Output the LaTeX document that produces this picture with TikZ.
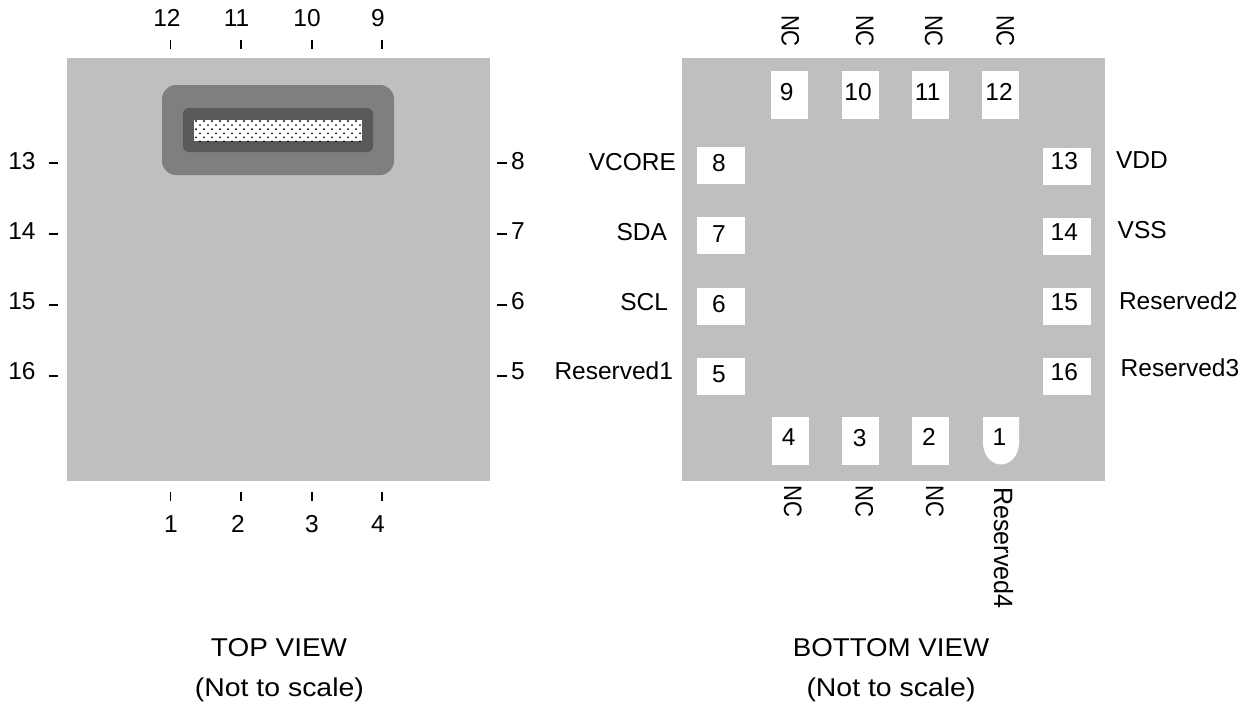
\documentclass[tikz,border=0pt]{standalone}
\usepackage{fontspec}
\setmainfont{Liberation Sans}
\definecolor{pkg}{HTML}{BFBFBF}
\definecolor{midgray}{HTML}{7F7F7F}
\definecolor{darkgray}{HTML}{595959}
\tikzset{
  lab/.style={inner sep=0pt,outer sep=0pt,anchor=base,text=black,font=\fontsize{24.5}{28}\selectfont},
  labw/.style={lab,anchor=base west},
  labe/.style={lab,anchor=base east},
  vert/.style={lab,anchor=base west,rotate=-90},
  tick/.style={draw=black,line width=1.9pt},
  padbox/.style={fill=white,draw=none}
}
\begin{document}
\begin{tikzpicture}[x=1pt,y=-1pt]
\useasboundingbox (0,0) rectangle (1260,702);
% packages
\fill[pkg] (67,58) rectangle (490,481);
\fill[pkg] (682,58) rectangle (1105,481);
% window
\fill[midgray,rounded corners=14pt] (162,85) rectangle (394,175);
\fill[darkgray,rounded corners=6pt] (183,108) rectangle (373,152);
\fill[white] (194,120) rectangle (362,141);
\begin{scope}
\clip (194,120) rectangle (362,141);
\foreach \r in {0,...,5}{
  \pgfmathsetmacro{\yy}{121+4.1*\r}
  \pgfmathsetmacro{\xo}{196+4*mod(\r,2)}
  \foreach \c in {0,...,21}{
    \fill[black!92] ({\xo+8*\c},\yy) circle (1.05pt);
  }
}
\end{scope}
% ticks
\foreach \x in {170.5,241,311.7,382.3}{
  \draw[tick] (\x,40) -- (\x,49);
  \draw[tick] (\x,491.7) -- (\x,500.7);
}
\foreach \y in {163,234,305,376}{
  \draw[tick] (48.7,\y) -- (58,\y);
  \draw[tick] (497.3,\y) -- (507,\y);
}
% left view numbers
\foreach \x/\y/\t/\n in {167/26/12/ta,236.5/26/11/tb,307/26/10/tc,378/26/9/td,
  171/532/1/ba,238/532/2/bb,312/532/3/bc,378/532/4/bd,
  22/169/13/la,22/239/14/lb,22/309/15/lc,22/379/16/ld,
  518/169/8/ra,518/239/7/rb,518/309/6/rc,518/379/5/rd}{
  \node[lab] (\n) at (\x,\y) {\t};
}
% pads
\foreach \x/\n in {771/pnine,842/pten,912/peleven,982/ptwelve}{
  \fill[padbox] (\x,71) rectangle ++(37,48);
}
\foreach \x/\n in {772/pfour,842/pthree,912/ptwo}{
  \fill[padbox] (\x,417) rectangle ++(37,48);
}
\fill[padbox] (983,417) -- (1019,417) -- (1019,443)
  .. controls (1019,454.6) and (1011,464.5) .. (1001,464.5)
  .. controls (991,464.5) and (983,454.6) .. (983,443) -- cycle;
\foreach \y in {147,217,288,358}{
  \fill[padbox] (697,\y) rectangle ++(48,37);
}
\foreach \y in {148,218,288,358}{
  \fill[padbox] (1043,\y) rectangle ++(48,37);
}
% pad numbers
\foreach \x/\y/\t/\n in {786.7/100/9/na,858/100/10/nb,927.7/100/11/nc,999/100/12/nd,
  788.7/445/4/ne,859.7/446.7/3/nf,929/445/2/ng,999.3/445/1/nh,
  719/171.7/8/ni,719/242.7/7/nj,719/312.7/6/nk,719/382.7/5/nl,
  1064.3/169.3/13/nm,1064.3/240/14/nn,1064.3/310.7/15/no,1064.3/380.7/16/np}{
  \node[lab] (\n) at (\x,\y) {\t};
}
% signal names
\node[labe] (vcore) at (676,170) {VCORE};
\node[labe] (sda) at (667,240) {SDA};
\node[labe] (scl) at (668,310.7) {SCL};
\node[labe] (resa) at (673,379) {Reserved1};
\node[labw] (vdd) at (1116,168) {VDD};
\node[labw] (vss) at (1117.7,238) {VSS};
\node[labw] (resb) at (1119,309) {Reserved2};
\node[labw] (resc) at (1120.7,376.7) {Reserved3};
% vertical names
\foreach \x/\y/\n in {781.7/15/va,856/15/vb,925/15/vc,996.7/15/vd,
  784/485.7/ve,855.7/485.7/vf,926/485.7/vg}{
  \node[vert] (\n) at (\x,\y) {\scalebox{.9}[1.03]{NC}};
}
\node[vert] (vh) at (994,487.3) {\scalebox{1.025}[1.08]{Reserved4}};
% captions
\node[lab] (capa) at (279,656.7) {\scalebox{1.14}[1.05]{TOP VIEW}};
\node[lab] (capb) at (279.4,696) {\scalebox{1.16}[1.05]{(Not to scale)}};
\node[lab] (capc) at (891,656.7) {\scalebox{1.13}[1.05]{BOTTOM VIEW}};
\node[lab] (capd) at (891,696) {\scalebox{1.16}[1.05]{(Not to scale)}};
\end{tikzpicture}
\end{document}
